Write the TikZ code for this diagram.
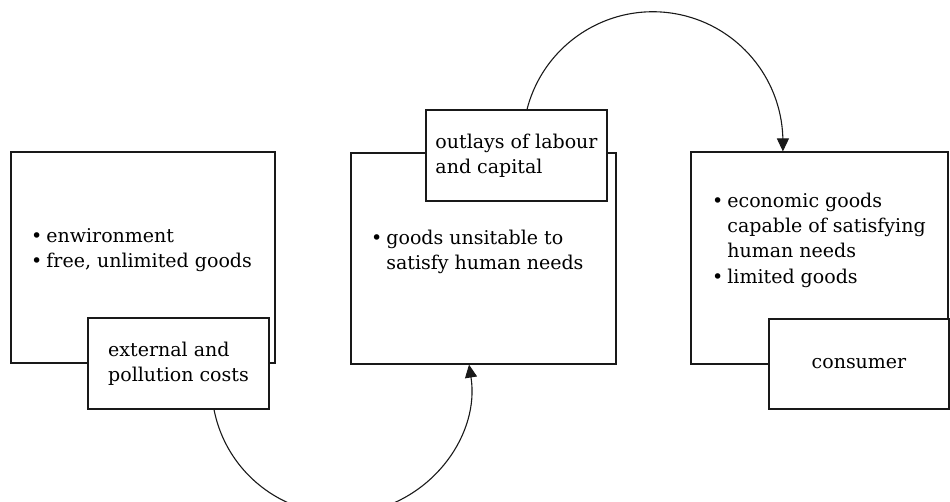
\documentclass[tikz,border=0pt]{standalone}
\usepackage{fontspec}
\setmainfont{DejaVu Serif}
\usetikzlibrary{arrows.meta}

\begin{document}
\begin{tikzpicture}[x=1pt, y=1pt, font=\fontsize{19}{25.3}\selectfont,
		blok/.style={draw=black!90, line width=1.1pt, fill=white, inner sep=0pt},
		spisok/.style={anchor=west, inner sep=0pt, align=left},
		strelka/.style={draw=black!90, line width=1.1pt, -{Triangle[length=13pt, width=12pt]}}]
		\useasboundingbox ( 0, 0 ) rectangle ( 950, 502 );

		% большие блоки
		\node [blok, minimum width=264pt, minimum height=211pt] (env) at ( 143.0, 244.5 ) {};
		\node [blok, minimum width=265pt, minimum height=211pt] (unsuit) at ( 483.5, 243.5 ) {};
		\node [blok, minimum width=257pt, minimum height=212pt] (econ) at ( 819.5, 244.0 ) {};

		% тексты в блоках
		\node [spisok] (envtxt) at ( 31, 252 ) {\begin{tabular}{@{}l@{\hspace{4pt}}l@{}}
			\textbullet & enwironment \\
			\textbullet & free, unlimited goods
		\end{tabular}};
		\node [spisok] (unsuittxt) at ( 371, 250 ) {\begin{tabular}{@{}l@{\hspace{4pt}}l@{}}
			\textbullet & goods unsitable to \\
			 & satisfy human needs
		\end{tabular}};
		\node [spisok] (econtxt) at ( 712, 262 ) {\begin{tabular}{@{}l@{\hspace{4pt}}l@{}}
			\textbullet & economic goods \\
			 & capable of satisfying \\
			 & human needs \\
			\textbullet & limited goods
		\end{tabular}};

		% малые блоки
		\node [blok, minimum width=181pt, minimum height=91pt, align=left] (costs) at ( 178.5, 138.5 ) {external and\\pollution costs};
		\node [blok, minimum width=181pt, minimum height=91pt, align=left] (labour) at ( 516.5, 346.5 ) {outlays of labour\\and capital};
		\node [blok, minimum width=180pt, minimum height=90pt] (consumer) at ( 859.0, 138.0 ) {consumer};

		% дуги
		\draw [strelka] ([xshift=35.5pt]costs.south) arc [start angle=191.1, end angle=368.9, radius=129.5];
		\draw [strelka] ([xshift=10.5pt]labour.north) arc [start angle=165.6, end angle=0, radius=130] -- ([xshift=-36.6pt]econ.north);
	\end{tikzpicture}
\end{document}
